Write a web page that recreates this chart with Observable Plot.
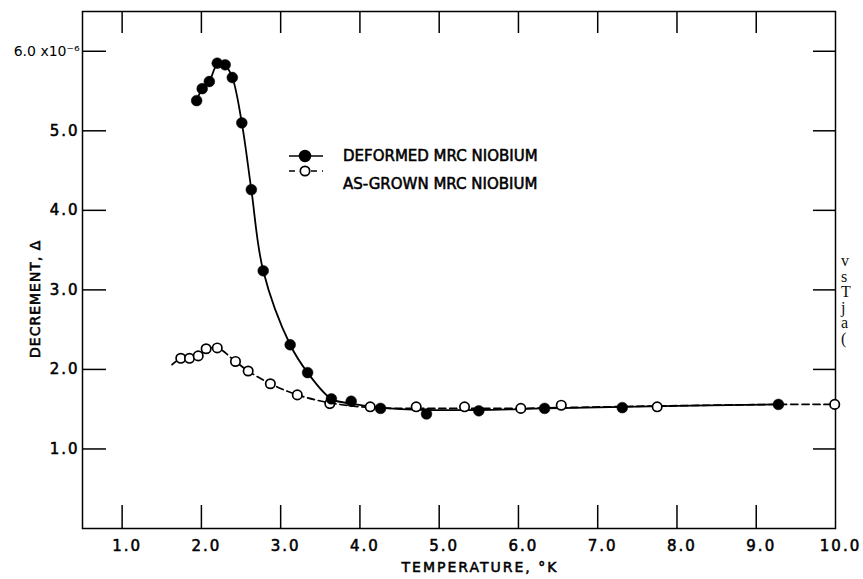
<!DOCTYPE html>
<html><head><meta charset="utf-8">
<script src="https://cdn.jsdelivr.net/npm/d3@7"></script>
<script src="https://cdn.jsdelivr.net/npm/@observablehq/plot@0.6"></script>
<style>
html,body{margin:0;padding:0;background:#fff;}
#wrap{position:relative;width:863px;height:579px;overflow:hidden;background:#fff;}
#legend{position:absolute;left:0;top:0;}
#side{position:absolute;left:841px;top:253px;font-family:"Liberation Serif",serif;font-size:16px;line-height:15.6px;color:#111;}
.ls2{letter-spacing:2px;}
.ls1{letter-spacing:1px;}
</style></head><body>
<div id="wrap"></div>
<script>
// Deformed MRC niobium (filled points)
const deformedT = [1.94, 2.01, 2.10, 2.20, 2.30, 2.39, 2.51, 2.63, 2.78, 3.12, 3.34, 3.64, 3.89, 4.26, 4.84, 5.50, 6.33, 7.31, 9.28];
const deformedD = [5.38, 5.53, 5.62, 5.85, 5.83, 5.67, 5.10, 4.26, 3.24, 2.31, 1.96, 1.63, 1.60, 1.51, 1.44, 1.48, 1.51, 1.52, 1.56];
// smooth curve drawn through the deformed data
const deformedCurveT = [1.94, 2.01, 2.10, 2.20, 2.30, 2.39, 2.51, 2.63, 2.78, 3.12, 3.34, 3.64, 3.89, 4.26, 4.84, 5.50, 6.33, 7.31, 9.28];
const deformedCurveD = [5.38, 5.53, 5.62, 5.83, 5.82, 5.67, 5.10, 4.26, 3.24, 2.31, 1.96, 1.63, 1.57, 1.52, 1.49, 1.49, 1.51, 1.53, 1.56];
// As-grown MRC niobium (open points)
const grownT = [1.74, 1.85, 1.96, 2.06, 2.20, 2.43, 2.59, 2.87, 3.21, 3.62, 4.13, 4.71, 5.32, 6.03, 6.54, 7.75, 9.99];
const grownD = [2.14, 2.14, 2.17, 2.26, 2.27, 2.10, 1.98, 1.82, 1.68, 1.57, 1.53, 1.53, 1.53, 1.51, 1.55, 1.53, 1.56];
// dashed curve drawn through the as-grown data
const grownCurveT = [1.63, 1.74, 1.85, 1.96, 2.06, 2.20, 2.43, 2.59, 2.87, 3.21, 3.62, 4.13, 4.71, 5.32, 6.03, 6.54, 7.75, 9.28, 9.99];
const grownCurveD = [2.06, 2.14, 2.15, 2.18, 2.25, 2.27, 2.10, 1.98, 1.82, 1.68, 1.58, 1.52, 1.51, 1.51, 1.51, 1.52, 1.54, 1.56, 1.56];

const xTickValues = [1, 2, 3, 4, 5, 6, 7, 8, 9];
const xLabelValues = [1, 2, 3, 4, 5, 6, 7, 8, 9, 10];
const yTickValues = [1, 2, 3, 4, 5, 6];
const yLabelValues = [1, 2, 3, 4, 5];
const yTopLabel = "6.0 x10⁻⁶";
const xTitle = "TEMPERATURE, °K";
const yTitle = "DECREMENT, Δ";
const legendLabels = ["DEFORMED MRC NIOBIUM", "AS-GROWN MRC NIOBIUM"];
const sideText = ["v", "s", "T", "j", "a", "("];

const deformed = deformedT.map((t, i) => ({t, d: deformedD[i]}));
const deformedCurve = deformedCurveT.map((t, i) => ({t, d: deformedCurveD[i]}));
const grown = grownT.map((t, i) => ({t, d: grownD[i]}));
const grownCurve = grownCurveT.map((t, i) => ({t, d: grownCurveD[i]}));

const W = 863, H = 579, mL = 82, mR = 28, mT = 11, mB = 51;
const frameW = W - mL - mR, frameH = H - mT - mB;
const font = {fontFamily: "DejaVu Sans", fontSize: 15, fill: "black", stroke: "black", strokeWidth: 0.55};

const chart = Plot.plot({
  width: W, height: H,
  marginLeft: mL, marginRight: mR, marginTop: mT, marginBottom: mB,
  style: {fontFamily: "DejaVu Sans", background: "white", color: "black"},
  x: {domain: [0.5, 10], axis: null},
  y: {domain: [0, 6.5], axis: null},
  marks: [
    Plot.frame({stroke: "black", strokeWidth: 1.5}),
    Plot.tickX(xTickValues, {x: d => d, insetTop: frameH - 23, stroke: "black", strokeWidth: 1.5}),
    Plot.tickX(xTickValues, {x: d => d, insetBottom: frameH - 22, stroke: "black", strokeWidth: 1.5}),
    Plot.tickY(yTickValues, {y: d => d, insetRight: frameW - 24, stroke: "black", strokeWidth: 1.5}),
    Plot.tickY(yTickValues, {y: d => d, insetLeft: frameW - 22, stroke: "black", strokeWidth: 1.5}),
    Plot.text(xLabelValues, {x: d => d, frameAnchor: "bottom", dy: 22, dx: 5, text: d => d.toFixed(1), ...font, className: "ls2"}),
    Plot.text(yLabelValues, {y: d => d, frameAnchor: "left", textAnchor: "end", dx: -3, text: d => d.toFixed(1), ...font, className: "ls2"}),
    Plot.text([yTopLabel], {y: () => 6, frameAnchor: "left", textAnchor: "end", dx: -3, dy: 0, text: d => d, fontFamily: "DejaVu Sans", fontSize: 14, fill: "black"}),
    Plot.text([xTitle], {frameAnchor: "bottom", dx: 21, dy: 43, text: d => d, ...font, fontSize: 14, className: "ls2"}),
    Plot.text([yTitle], {frameAnchor: "left", rotate: -90, dx: -47, dy: 88, text: d => d, ...font, fontSize: 14, className: "ls1"}),
    Plot.line(grownCurve, {x: "t", y: "d", curve: "catmull-rom", stroke: "black", strokeWidth: 1.7, strokeDasharray: "7,4"}),
    Plot.line(deformedCurve, {x: "t", y: "d", curve: "catmull-rom", stroke: "black", strokeWidth: 1.8}),
    Plot.dot(grown, {x: "t", y: "d", r: 4.7, fill: "white", stroke: "black", strokeWidth: 1.7}),
    Plot.dot(deformed, {x: "t", y: "d", r: 5.4, fill: "black", stroke: "black", strokeWidth: 0.5})
  ]
});
const wrap = document.getElementById("wrap");
wrap.appendChild(chart);

// legend overlay
const lg = d3.select(wrap).append("svg").attr("id", "legend").attr("width", W).attr("height", H);
const rows = [
  {label: legendLabels[0], ly: 156, ty: 156, filled: true},
  {label: legendLabels[1], ly: 171, ty: 184, filled: false}
];
rows.forEach(r => {
  lg.append("line").attr("x1", 289).attr("x2", 323).attr("y1", r.ly).attr("y2", r.ly)
    .attr("stroke", "black").attr("stroke-width", 1.7).attr("stroke-dasharray", r.filled ? null : "6,5");
  lg.append("circle").attr("cx", 305).attr("cy", r.ly).attr("r", r.filled ? 5.4 : 4.7)
    .attr("fill", r.filled ? "black" : "white").attr("stroke", "black").attr("stroke-width", 1.7);
  lg.append("text").attr("x", 343).attr("y", r.ty).attr("dy", "0.35em")
    .attr("font-family", "DejaVu Sans").attr("font-size", 15)
    .attr("stroke", "black").attr("stroke-width", 0.55)
    .attr("fill", "black").text(r.label);
});

const side = document.createElement("div");
side.id = "side";
side.innerHTML = sideText.join("<br>");
wrap.appendChild(side);
</script>
</body></html>
